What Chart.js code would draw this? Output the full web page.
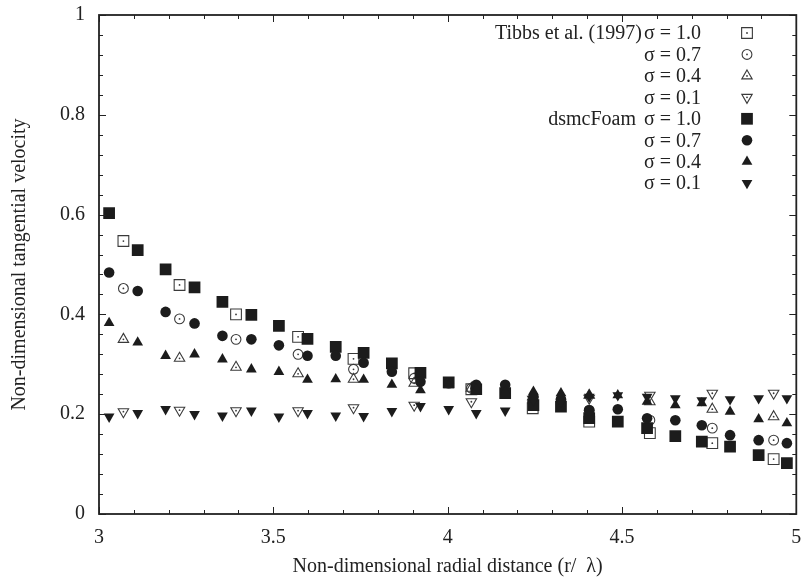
<!DOCTYPE html>
<html>
<head>
<meta charset="utf-8">
<title>Non-dimensional tangential velocity</title>
<script src="https://cdn.jsdelivr.net/npm/chart.js@4.4.1/dist/chart.umd.min.js"></script>
<style>
  html, body { margin: 0; padding: 0; background: #fff; }
  #wrap { width: 805px; height: 579px; }
</style>
</head>
<body>
<div id="wrap"><canvas id="chart" width="805" height="579"></canvas></div>
<script>
// Posições radiais (r/λ) das simulações dsmcFoam
const dsmcX = [3.029, 3.111, 3.191, 3.274, 3.354, 3.437, 3.516, 3.598, 3.679, 3.759,
               3.840, 3.922, 4.003, 4.082, 4.165, 4.246, 4.325, 4.406, 4.488, 4.572,
               4.653, 4.729, 4.810, 4.892, 4.973];
const dsmcSigma10 = [0.603, 0.529, 0.490, 0.454, 0.425, 0.399, 0.377, 0.351, 0.335, 0.323,
                     0.302, 0.283, 0.264, 0.250, 0.242, 0.218, 0.215, 0.192, 0.185, 0.172,
                     0.156, 0.145, 0.135, 0.118, 0.102];
const dsmcSigma07 = [0.484, 0.447, 0.405, 0.382, 0.357, 0.350, 0.338, 0.317, 0.317, 0.303,
                     0.285, 0.265, 0.262, 0.259, 0.259, 0.235, 0.230, 0.208, 0.210, 0.192,
                     0.188, 0.178, 0.158, 0.148, 0.142];
const dsmcSigma04 = [0.383, 0.344, 0.317, 0.320, 0.310, 0.290, 0.285, 0.269, 0.270, 0.269,
                     0.259, 0.248, 0.258, 0.250, 0.245, 0.245, 0.242, 0.238, 0.238, 0.225,
                     0.218, 0.222, 0.205, 0.190, 0.182];
const dsmcSigma01 = [0.195, 0.202, 0.210, 0.200, 0.197, 0.207, 0.195, 0.202, 0.197, 0.196,
                     0.206, 0.216, 0.210, 0.202, 0.207, 0.228, 0.225, 0.235, 0.238, 0.235,
                     0.232, 0.228, 0.230, 0.232, 0.232];

// Dados de referência - Tibbs et al. (1997)
const tibbsX = [3.070, 3.231, 3.393, 3.571, 3.730, 3.904, 4.068, 4.244, 4.406, 4.580, 4.759, 4.935];
const tibbsSigma10 = [0.547, 0.459, 0.400, 0.355, 0.311, 0.282, 0.250, 0.212, 0.185, 0.162, 0.142, 0.110];
const tibbsSigma07 = [0.452, 0.391, 0.350, 0.320, 0.290, 0.272, 0.252, 0.225, 0.208, 0.188, 0.172, 0.148];
const tibbsSigma04 = [0.350, 0.312, 0.294, 0.281, 0.270, 0.262, 0.252, 0.235, 0.238, 0.225, 0.210, 0.195];
const tibbsSigma01 = [0.205, 0.208, 0.207, 0.207, 0.213, 0.218, 0.225, 0.230, 0.232, 0.238, 0.242, 0.242];

// Eixos
const xTicks = [3, 3.5, 4, 4.5, 5];
const xTickLabels = ['3', '3.5', '4', '4.5', '5'];
const yTicks = [0, 0.2, 0.4, 0.6, 0.8, 1];
const yTickLabels = ['0', '0.2', '0.4', '0.6', '0.8', '1'];

// Legenda (prefixo + sigma)
const legendPrefix = ['Tibbs et al. (1997)', '', '', '', 'dsmcFoam', '', '', ''];
const legendSigma = ['σ = 1.0', 'σ = 0.7', 'σ = 0.4', 'σ = 0.1', 'σ = 1.0', 'σ = 0.7', 'σ = 0.4', 'σ = 0.1'];

const FONT = '"Liberation Serif", "Times New Roman", serif';
const INK = '#222';
const FILL = '#1c1c1c';
const OPEN = '#3a3a3a';

function zip(xs, ys) {
  return xs.map((x, i) => ({ x: x, y: ys[i] }));
}

// Estilo de cada série (ordem do gnuplot: a última fica por cima)
const series = [
  { data: zip(tibbsX, tibbsSigma10), style: 'rect', radius: 7.6, open: true },
  { data: zip(tibbsX, tibbsSigma07), style: 'circle', radius: 4.9, open: true },
  { data: zip(tibbsX, tibbsSigma04), style: 'triangle', radius: 6.0, open: true },
  { data: zip(tibbsX, tibbsSigma01), style: 'triangle', radius: 6.0, open: true, rotation: 180 },
  { data: zip(dsmcX, dsmcSigma10), style: 'rect', radius: 8.3 },
  { data: zip(dsmcX, dsmcSigma07), style: 'circle', radius: 5.3 },
  { data: zip(dsmcX, dsmcSigma04), style: 'triangle', radius: 6.2 },
  { data: zip(dsmcX, dsmcSigma01), style: 'triangle', radius: 6.2, rotation: 180 }
];

const datasets = series.map((s, i) => ({
  label: legendPrefix[i] + ' ' + legendSigma[i],
  data: s.data,
  order: series.length - i,
  showLine: false,
  pointStyle: s.style,
  pointRadius: s.radius,
  pointHoverRadius: s.radius,
  pointRotation: s.rotation || 0,
  pointBackgroundColor: s.open ? 'rgba(0,0,0,0)' : FILL,
  pointBorderColor: s.open ? OPEN : FILL,
  pointBorderWidth: s.open ? 1.1 : 0,
  openMarker: !!s.open
}));

// Ponto central dos marcadores abertos (estilo gnuplot)
const centerDots = {
  id: 'centerDots',
  afterDatasetDraw(chart, args) {
    const ds = chart.data.datasets[args.index];
    if (!ds.openMarker) return;
    const ctx = chart.ctx;
    ctx.save();
    ctx.fillStyle = OPEN;
    args.meta.data.forEach(pt => {
      ctx.beginPath();
      ctx.arc(pt.x, pt.y, 0.9, 0, Math.PI * 2);
      ctx.fill();
    });
    ctx.restore();
  }
};

// Moldura + marcas de escala para dentro (todos os lados)
const frameTicks = {
  id: 'frameTicks',
  afterDraw(chart) {
    const { ctx, chartArea: a } = chart;
    const xs = chart.scales.x;
    const ys = chart.scales.y;
    ctx.save();
    ctx.strokeStyle = INK;
    ctx.lineWidth = 1;
    ctx.beginPath();
    for (let k = 0; k <= 20; k++) {
      const v = 3 + k * 0.1;
      const px = Math.round(xs.getPixelForValue(v)) + 0.5;
      const len = (k % 5 === 0) ? 7 : 4;
      ctx.moveTo(px, a.bottom); ctx.lineTo(px, a.bottom - len);
      ctx.moveTo(px, a.top); ctx.lineTo(px, a.top + len);
    }
    for (let k = 0; k <= 25; k++) {
      const v = k * 0.04;
      const py = Math.round(ys.getPixelForValue(v)) + 0.5;
      const len = (k % 5 === 0) ? 7 : 4;
      ctx.moveTo(a.left, py); ctx.lineTo(a.left + len, py);
      ctx.moveTo(a.right, py); ctx.lineTo(a.right - len, py);
    }
    ctx.stroke();
    ctx.lineWidth = 1.8;
    ctx.strokeRect(a.left, a.top, a.right - a.left, a.bottom - a.top);
    ctx.restore();
  }
};

// Legenda desenhada dentro da área do gráfico
const keyBox = {
  id: 'keyBox',
  afterDraw(chart) {
    const ctx = chart.ctx;
    const textRight = 701;
    const symbolX = 747;
    const rowTop = 33;
    const rowStep = 21.45;
    ctx.save();
    ctx.font = '20px ' + FONT;
    ctx.fillStyle = INK;
    ctx.textBaseline = 'middle';
    ctx.textAlign = 'right';
    chart.data.datasets.forEach((ds, i) => {
      const y = rowTop + i * rowStep;
      ctx.fillStyle = INK;
      ctx.fillText(legendSigma[i], textRight, y + 1);
      if (legendPrefix[i]) {
        const w = ctx.measureText(legendSigma[i]).width;
        const gap = ds.openMarker ? 2 : 8;
        ctx.fillText(legendPrefix[i], textRight - w - gap, y + 1);
      }
      ctx.fillStyle = ds.pointBackgroundColor;
      ctx.strokeStyle = ds.pointBorderColor;
      ctx.lineWidth = ds.pointBorderWidth;
      Chart.helpers.drawPoint(ctx, {
        pointStyle: ds.pointStyle,
        rotation: ds.pointRotation,
        radius: ds.pointRadius,
        borderWidth: ds.pointBorderWidth
      }, symbolX, y);
      if (ds.openMarker) {
        ctx.fillStyle = OPEN;
        ctx.beginPath();
        ctx.arc(symbolX, y, 0.9, 0, Math.PI * 2);
        ctx.fill();
      }
    });
    ctx.restore();
  }
};

new Chart(document.getElementById('chart'), {
  type: 'scatter',
  data: { datasets: datasets },
  options: {
    responsive: false,
    animation: false,
    layout: { padding: { left: 0, right: 5, top: 15, bottom: 0 } },
    plugins: {
      legend: { display: false },
      tooltip: { enabled: false }
    },
    scales: {
      x: {
        type: 'linear',
        min: 3,
        max: 5,
        afterBuildTicks: scale => { scale.ticks = xTicks.map(v => ({ value: v })); },
        afterFit: scale => {
          scale.height = 65;
          // rótulos das pontas não devem encolher a área do gráfico
          scale.paddingLeft = 0;
          scale.paddingRight = 0;
        },
        grid: { display: false, drawTicks: false },
        border: { display: false },
        ticks: {
          padding: 12,
          color: INK,
          font: { family: FONT, size: 20 },
          maxRotation: 0,
          callback: (v) => xTickLabels[xTicks.indexOf(v)]
        },
        title: {
          display: true,
          text: 'Non-dimensional radial distance (r/  λ)',
          color: INK,
          font: { family: FONT, size: 20 },
          padding: { top: 0, bottom: 0 }
        }
      },
      y: {
        type: 'linear',
        min: 0,
        max: 1,
        afterBuildTicks: scale => { scale.ticks = yTicks.map(v => ({ value: v })); },
        afterFit: scale => {
          scale.width = 99;
          scale.paddingTop = 0;
          scale.paddingBottom = 0;
        },
        grid: { display: false, drawTicks: false },
        border: { display: false },
        ticks: {
          padding: 14,
          color: INK,
          font: { family: FONT, size: 20 },
          callback: (v) => yTickLabels[yTicks.indexOf(v)]
        },
        title: {
          display: true,
          text: 'Non-dimensional tangential velocity',
          color: INK,
          font: { family: FONT, size: 20 },
          padding: { top: 8, bottom: 0 }
        }
      }
    }
  },
  plugins: [centerDots, frameTicks, keyBox]
});
</script>
</body>
</html>
